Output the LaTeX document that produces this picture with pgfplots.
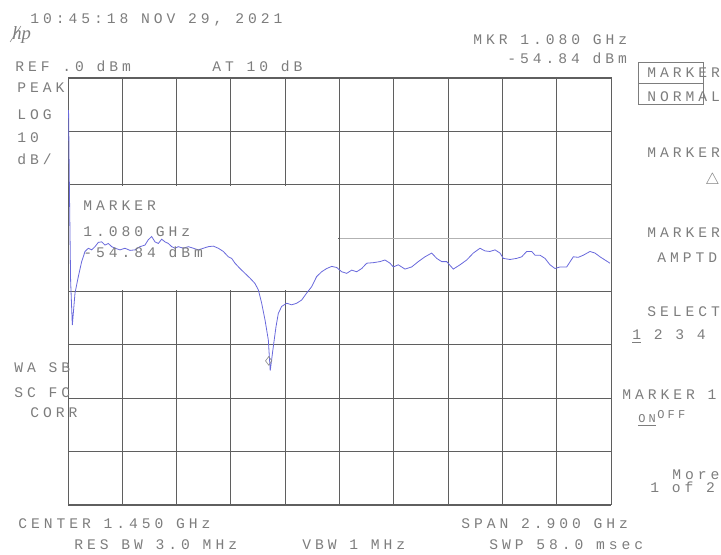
\documentclass[border=0pt]{standalone}
\usepackage{pgfplots}
\pgfplotsset{compat=1.18}
\usepackage{pgfplotstable}
\usepackage{fontspec}
\newfontfamily\hpfont{Liberation Mono}[LetterSpace=27]
\newfontfamily\logofont{Liberation Serif}
\definecolor{txt}{RGB}{125,125,125}
\definecolor{gridc}{RGB}{95,95,95}
\definecolor{trace}{RGB}{105,105,220}
\pgfplotstableread{
x y
0.003 -6.0
0.008 -22.0
0.014 -38.0
0.0231 -46.3
0.0374 -40.3
0.0552 -37.2
0.0730 -34.4
0.0908 -32.5
0.1086 -31.9
0.1264 -32.2
0.1442 -31.6
0.1620 -30.8
0.1798 -30.7
0.1976 -31.3
0.2154 -31.0
0.2332 -31.6
0.2510 -31.9
0.2777 -32.2
0.3044 -31.9
0.3311 -32.3
0.3578 -32.2
0.3845 -31.6
0.4112 -31.3
0.4290 -30.3
0.4468 -29.7
0.4646 -30.7
0.4824 -31.0
0.5003 -30.2
0.5180 -30.7
0.5358 -31.0
0.5537 -31.6
0.5715 -31.9
0.5893 -31.6
0.6160 -31.9
0.6427 -31.6
0.6694 -31.9
0.6961 -32.2
0.7228 -31.9
0.7495 -31.6
0.7762 -31.5
0.8029 -31.9
0.8296 -32.5
0.8563 -33.5
0.8741 -33.8
0.8919 -34.7
0.9186 -35.7
0.9453 -36.6
0.9720 -37.5
0.9987 -38.5
1.0165 -39.7
1.0343 -42.2
1.0521 -45.3
1.0699 -49.1
1.0800 -54.84
1.0966 -50.3
1.1109 -46.6
1.1233 -44.1
1.1411 -42.8
1.1678 -42.2
1.1945 -42.5
1.2212 -42.2
1.2479 -41.6
1.2746 -40.3
1.3013 -39.1
1.3280 -37.2
1.3548 -36.3
1.3815 -35.7
1.4082 -35.3
1.4349 -35.5
1.4617 -36.3
1.4884 -36.6
1.5152 -36.0
1.5419 -36.3
1.5686 -35.7
1.5953 -34.7
1.6305 -34.6
1.6663 -34.4
1.6930 -34.1
1.7197 -34.7
1.7373 -35.4
1.7640 -35.0
1.7998 -35.8
1.8356 -35.4
1.8708 -34.4
1.9066 -33.5
1.9424 -32.8
1.9691 -33.8
1.9958 -34.4
2.0225 -34.4
2.0578 -35.8
2.0936 -35.0
2.1293 -34.1
2.1646 -32.8
2.2004 -31.9
2.2271 -32.4
2.2538 -32.5
2.2805 -32.2
2.3072 -32.8
2.3248 -33.8
2.3606 -34.0
2.3964 -33.8
2.4231 -33.5
2.4498 -32.5
2.4765 -32.5
2.4941 -33.2
2.5208 -33.2
2.5475 -33.8
2.5742 -35.0
2.6009 -35.7
2.6276 -35.4
2.6634 -35.4
2.6986 -33.5
2.7253 -33.6
2.7520 -33.2
2.7878 -32.5
2.8145 -32.8
2.8412 -33.5
2.8679 -34.1
2.8946 -34.7
}\tracedata
\newcommand{\T}[3]{\node[anchor=base west,inner sep=0pt,text=txt,font=\hpfont\fontsize{11}{13}\selectfont] at (#1,#2) {#3};}
\begin{document}
\begin{tikzpicture}
\useasboundingbox (0pt,0pt) rectangle (540.75pt,-416.25pt);
\begin{axis}[
  at={(51pt,-58.5pt)}, anchor=north west,
  scale only axis, width=407.25pt, height=320.25pt,
  xmin=0, xmax=2.9, ymin=-80, ymax=0,
  xtick={0,0.29,0.58,0.87,1.16,1.45,1.74,2.03,2.32,2.61,2.9},
  ytick={-80,-70,-60,-50,-40,-30,-20,-10,0},
  xticklabels={}, yticklabels={},
  major tick length=0pt,
  grid=major,
  grid style={line width=0.65pt, draw=gridc},
  axis line style={line width=0.75pt, draw=gridc},
]
\fill[white] (axis cs:0.006,-20.2) rectangle (axis cs:1.444,-39.8);
\draw[line width=0.65pt, draw=black!30] (axis cs:1.45,-30) -- (axis cs:2.9,-30);
\addplot[trace, line width=0.6pt, mark=none] table[x=x,y=y] {\tracedata};
\addplot[draw=black!45, only marks, mark=diamond, mark size=3.2pt, mark options={line width=0.5pt, fill=none, draw=black!45}] coordinates {(1.072,-53.0)};
\end{axis}
\begin{scope}[x=0.75pt,y=-0.75pt]
\T{30}{24}{10:45:18 NOV 29, 2021}
\node[anchor=base west,inner sep=0pt,text=txt,font=\logofont\itshape\fontsize{14}{14}\selectfont] at (12,40) {\textit{hp}};
\draw[txt, line width=0.4pt] (10,42) -- (21,26);
\T{15}{72}{REF .0 dBm}
\T{212}{72}{AT 10 dB}
\T{473}{45}{MKR 1.080 GHz}
\T{507}{64}{-54.84 dBm}
\draw[txt, line width=0.6pt] (638,62) rectangle (703,104);
\draw[txt, line width=0.6pt] (638,83) -- (703,83);
\T{647}{78}{MARKER}
\T{647}{102}{NORMAL}
\T{17}{93}{PEAK}
\T{17}{120}{LOG}
\T{17}{143}{10}
\T{17}{165}{dB/}
\T{647}{158}{MARKER}
\node[anchor=base west,inner sep=0pt,text=txt,font=\fontsize{12}{13}\selectfont] at (705,185) {$\bigtriangleup$};
\T{647}{238}{MARKER}
\T{657}{263}{AMPTD}
\T{647}{317}{SELECT}
\T{632}{340}{\underline{1} 2 3 4}
\T{14}{373}{WA SB}
\T{14}{398}{SC FC}
\T{30}{418}{CORR}
\T{622}{400}{MARKER 1}
\node[anchor=base west,inner sep=0pt,text=txt,font=\hpfont\fontsize{9}{10}\selectfont] at (638,423) {\underline{ON}};
\node[anchor=base west,inner sep=0pt,text=txt,font=\hpfont\fontsize{9}{10}\selectfont] at (657,419) {OFF};
\T{672}{480}{More}
\T{650}{493}{1 of 2}
\T{83}{211}{MARKER}
\T{83}{237}{1.080 GHz}
\T{83}{258}{-54.84 dBm}
\T{18}{528}{CENTER 1.450 GHz}
\T{461}{528}{SPAN 2.900 GHz}
\T{74}{550}{RES BW 3.0 MHz}
\T{302}{550}{VBW 1 MHz}
\T{489}{550}{SWP 58.0 msec}
\end{scope}
\end{tikzpicture}
\end{document}
